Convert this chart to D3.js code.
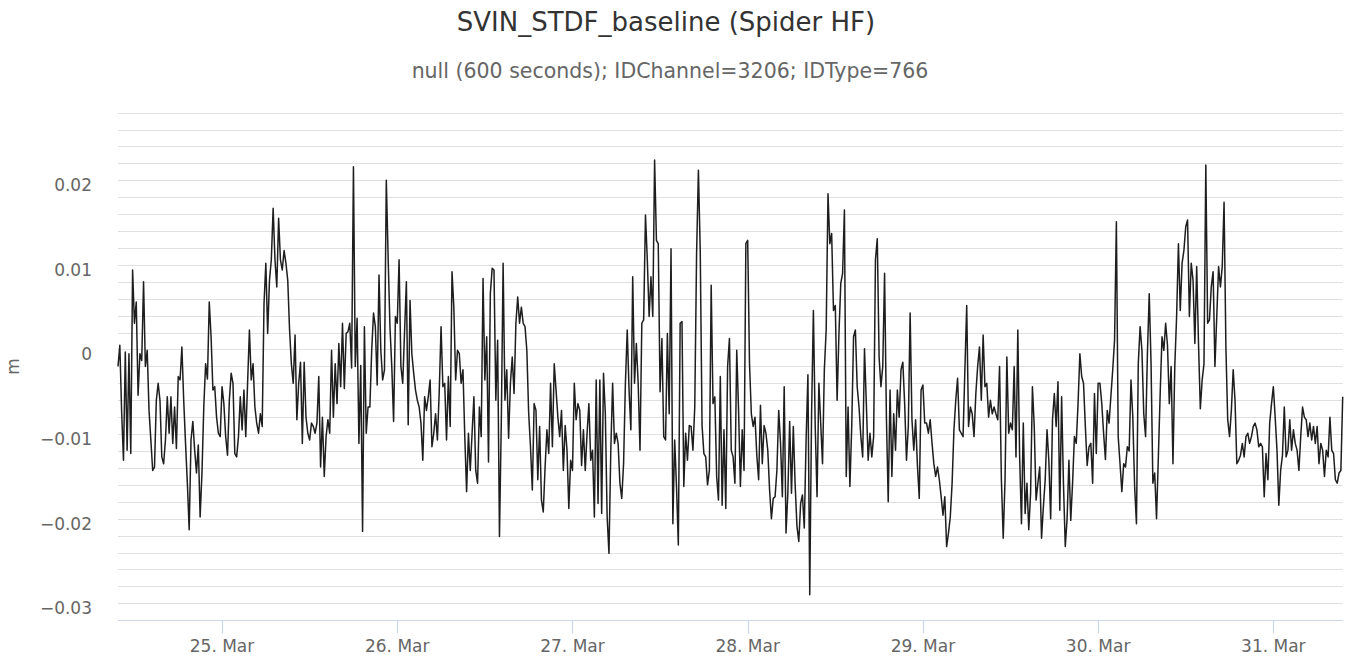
<!DOCTYPE html>
<html>
<head>
<meta charset="utf-8">
<script src="https://cdn.jsdelivr.net/npm/d3@7"></script>
<style>
  body { margin: 0; background: #fff; }
  svg { display: block; }
</style>
</head>
<body>
<div id="chart"></div>
<script>
// baseline readings in millimetres, one every 15 minutes
var mar24 = [
  -2.0, 0.5, -7.4, -13.1, -0.3, -11.9, -0.5, -12.3, 9.4, 3.1,
  5.6, -5.4, -0.5, -1.3, 8.0, -2.0, -0.1, -7.2, -10.7, -14.3,
  -13.9, -6.0, -4.0, -6.0, -12.7, -13.5, -10.7, -5.6, -9.9, -5.6,
  -11.1, -6.8, -11.7, -3.2, -3.6, 0.3, -6.0, -11.1, -15.8, -21.3,
  -10.7, -8.5, -11.9, -14.6, -11.3, -19.8, -14.6, -6.8, -1.7, -3.5,
  5.6, 1.5, -4.8, -4.4, -8.0, -9.9, -10.3
]
var mar25 = [
  -4.4, -6.4, -10.3,
  -12.5, -6.0, -2.8, -4.0, -12.3, -12.7, -10.3, -5.6, -9.5, -4.8,
  -10.3, -4.0, 2.3, -3.6, -1.7, -6.8, -8.7, -9.9, -7.6, -9.1,
  5.4, 10.2, 1.9, 8.2, 10.6, 16.7, 10.6, 7.4, 15.5, 10.6,
  9.4, 11.7, 10.2, 8.2, 2.3, -1.7, -4.0, 1.7, -8.3, -4.0,
  -1.5, -11.1, -1.5, -8.0, -9.9, -10.7, -8.7, -9.1, -9.9, -8.7,
  -3.2, -13.9, -8.0, -15.0, -10.3, -8.3, -9.9, -0.1, -8.0, -1.7,
  -6.4, 0.7, -4.4, 3.1, -4.6, 1.9, 2.1, 3.1, -2.2, 21.6,
  -2.0, 3.7, -11.1, -1.9, -21.5, 2.7, -9.9, -6.8, -6.8, -0.1,
  4.3, 2.7, -4.2, 8.8, -0.1, -3.6, -2.4, 20.0, 10.9, 2.7,
  -2.0, -8.5, 3.9
]
var mar26 = [
  3.1, 10.6, -2.0, -4.0, 2.1, 8.0, -8.9,
  5.8, -0.5, -2.8, -4.8, -6.0, -6.8, -8.7, -13.1, -5.6, -7.2,
  -5.6, -3.6, -11.5, -9.9, -7.6, -10.7, -5.0, 2.7, -4.4, -4.0,
  -10.7, -3.2, -9.1, 9.2, 5.0, -3.6, -0.1, -0.5, -4.0, -2.4,
  -10.3, -16.8, -9.9, -14.3, -9.9, -5.6, -14.3, -15.8, -6.8, -10.3,
  8.4, -3.6, 1.5, -13.3, 6.6, 9.6, 9.4, -6.0, 1.1, -22.1,
  -8.7, 10.2, -6.0, -2.4, -10.5, -4.0, -0.9, -5.2, 3.1, 6.2,
  3.1, 5.0, 3.1, 2.7, -0.1, -7.5, -11.5, -16.6, -6.4, -7.2,
  -15.4, -9.1, -17.8, -19.2, -13.9, -9.5, -12.3, -4.0, -11.5, -1.7,
  -4.8, -8.0, -10.3, -7.2, -14.3, -9.0, -11.9, -18.8, -13.1
]
var mar27 = [
  -14.3,
  -4.0, -8.3, -6.4, -7.2, -13.7, -9.5, -14.3, -9.9, -6.4, -13.1,
  -11.9, -19.8, -3.6, -18.2, -3.6, -19.4, -2.8, -7.6, -19.8, -24.1,
  -11.9, -4.0, -11.1, -9.9, -11.1, -15.8, -17.6, -13.5, -4.0, 2.3,
  -4.8, -9.5, 8.6, -4.0, 0.7, -4.0, -11.9, 3.1, 3.5, 15.9,
  10.6, 3.9, 8.6, 3.9, 22.4, 12.9, 12.5, -5.0, 1.3, -10.3,
  -10.7, 1.9, -7.6, 11.9, -20.6, -10.7, -16.2, -23.1, 3.1, 3.3,
  -16.2, -9.9, -13.1, -9.0, -9.1, -11.9, -6.8, 11.3, 21.2,
  11.7, -9.0, -12.3, -12.7, -16.0, -14.3, 7.6, -6.4, -5.6, -15.0,
  -17.8, -3.2, -18.4, -9.5, -18.8, -2.0, 1.3, -11.9, -12.7, -15.8,
  -0.1, -7.2, -16.2, -9.5, -14.3, 12.5
]
var mar28 = [
  12.9, -1.7, -7.6, -9.1,
  -8.0, -12.5, -15.4, -6.6, -13.5, -9.0, -9.9, -11.9, -16.6, -20.0,
  -17.6, -17.4, -14.3, -7.2, -11.1, -17.4, -4.4, -21.7, -17.0, -8.5,
  -17.0, -9.1, -16.0, -20.9, -22.7, -18.2, -17.2, -21.1, -10.7, -3.0,
  -29.0, -7.6, 4.6, -9.1, -17.4, -4.0, -8.7, -13.5, -2.4, 2.3,
  18.4, 12.5, 13.7, 4.6, 5.2, -6.0, 1.9, 7.8, 9.0, 16.5,
  -15.0, -6.8, -16.2, -9.1, 1.5, 2.3, -4.4, -6.8, -10.3, -12.7,
  0.1, -6.4, -13.1, -9.9, -12.7, -10.3, 10.6, 13.1, -0.9, -4.4,
  -2.0, 9.0, -8.0, -18.0, -4.8, -15.0, -7.6, -11.9, -4.8, -8.0,
  -2.4, -1.5, -6.4, -13.1, -9.1, 4.3, -8.3, -11.9, -8.3, -13.7,
  -17.6, -4.8
]
var mar29 = [
  -4.2, -8.7, -8.7, -9.9, -8.3, -11.1, -13.5, -15.0,
  -13.9, -15.4, -17.4, -19.6, -17.4, -23.3, -21.7, -19.8, -15.8, -9.5,
  -6.0, -3.4, -9.5, -9.9, -10.3, -2.4, 5.2, -9.1, -6.8, -7.6,
  -10.3, -5.2, -2.0, 0.3, -6.0, 1.7, -4.4, -4.0, -8.0, -6.0,
  -7.6, -6.8, -7.6, -8.3, -2.0, -15.4, -22.3, -15.4, -0.9, -9.9,
  -8.7, -9.5, -2.0, -12.7, 2.3, -12.7, -20.6, -8.7, -19.4, -15.8,
  -21.3, -17.0, -4.4, -9.1, -17.8, -15.8, -13.9, -22.3, -18.6, -15.4,
  -9.5, -13.1, -20.0, -8.3, -5.2, -9.1, -3.8, -19.0, -5.6, -15.8,
  -23.3, -20.0, -13.1, -20.2, -15.8, -10.3, -11.1, -6.4, -0.5, -3.2,
  -4.0, -9.1, -13.7, -11.5, -11.1, -15.8, -5.2, -12.3
]
var mar30 = [
  -4.0,
  -4.0, -6.4, -9.9, -13.0, -7.2, -8.7, -5.5, -2.4, 1.1, 15.1,
  -10.3, -13.5, -16.8, -13.5, -13.9, -11.5, -12.0, -3.6, -8.0, -16.2,
  -20.6, -1.7, 2.7, -0.1, -7.6, -10.3, -0.5, 6.6, -1.7, -15.8,
  -14.6, -20.0, -12.7, -5.2, 1.5, -0.1, 3.1, 0.5, -6.4, -2.0,
  -13.5, -2.0, 3.9, 12.5, 4.6, 10.2, 11.7, 14.5, 15.3, 3.9,
  10.2, 8.2, 0.7, 9.8, 0.7, -7.0, -3.6, -1.7, 21.8, 3.1,
  3.5, 7.4, 9.2, -2.0, 3.9, 9.8, 7.4, 9.8, 17.4, 0.3,
  -8.3, -10.3, -7.2, -2.4, -6.0, -13.5, -13.1, -12.5, -11.1, -12.7,
  -10.3, -9.9, -11.1, -10.3, -9.1, -8.7, -9.5, -11.5, -11.1, -11.5,
  -17.4, -12.3, -15.4, -8.7, -6.4
]
var mar31 = [
  -4.4, -8.0, -11.9, -18.4, -14.3,
  -12.5, -6.8, -12.7, -11.9, -8.3, -11.9, -9.5, -11.1, -11.9, -14.3,
  -10.3, -6.8, -8.0, -8.3, -10.3, -8.7, -10.7, -9.1, -11.1, -9.1,
  -13.5, -11.1, -11.9, -15.0, -11.9, -12.7, -8.0, -11.9, -12.3, -15.4,
  -15.8, -14.6, -14.3, -5.6
]

var dayStarts = ["2019-03-24T09:45:00Z", "2019-03-25T00:00:00Z", "2019-03-26T00:00:00Z",
                 "2019-03-27T00:00:00Z", "2019-03-28T00:00:00Z", "2019-03-29T00:00:00Z",
                 "2019-03-30T00:00:00Z", "2019-03-31T00:00:00Z"]
var dayValues = [mar24, mar25, mar26, mar27, mar28, mar29, mar30, mar31]
var stepMinutes = 15

var yDomain = [-0.032, 0.028]
var yLabelTicks = [-0.03, -0.02, -0.01, 0, 0.01, 0.02]

var titleText = "SVIN_STDF_baseline (Spider HF)"
var subtitleText = "null (600 seconds); IDChannel=3206; IDType=766"
var yTitle = "m"

var outerWidth = 1352,
    outerHeight = 659
var margin = { top: 112.6, right: 9.3, bottom: 38.8, left: 118 }
var fontFamily = "'DejaVu Sans', Verdana, sans-serif"

var data = []
dayValues.forEach(function(vals, i) {
    var t0 = new Date(dayStarts[i])
    vals.forEach(function(v, j) {
        data.push({ t: new Date(+t0 + j * stepMinutes * 60000), v: v / 1000 })
    })
})

var svg = d3.select("#chart")
    .append("svg")
    .attr("width", outerWidth)
    .attr("height", outerHeight)

svg.append("rect")
    .attr("width", outerWidth)
    .attr("height", outerHeight)
    .attr("fill", "#ffffff")

var xScale = d3.scaleUtc()
    .domain(d3.extent(data, function(d) { return d.t }))
    .range([margin.left, outerWidth - margin.right])

var yScale = d3.scaleLinear()
    .domain(yDomain)
    .range([outerHeight - margin.bottom, margin.top])

// grid every 0.002
svg.append("g")
    .selectAll("line")
    .data(yScale.ticks(30).filter(function(d) { return d > yDomain[0] + 1e-9 }))
    .enter().append("line")
    .attr("x1", margin.left)
    .attr("x2", outerWidth - margin.right)
    .attr("y1", function(d) { return Math.round(yScale(d)) + 0.5 })
    .attr("y2", function(d) { return Math.round(yScale(d)) + 0.5 })
    .attr("stroke", "#e0e0e0")
    .attr("stroke-width", 1.2)

// x axis line and ticks
var axisY = Math.round(yScale(yDomain[0])) + 0.5
svg.append("line")
    .attr("x1", margin.left)
    .attr("x2", outerWidth - margin.right)
    .attr("y1", axisY)
    .attr("y2", axisY)
    .attr("stroke", "#ccd6eb")
    .attr("stroke-width", 1.2)

var xTicks = xScale.ticks(d3.utcDay.every(1))
var xg = svg.append("g")
xg.selectAll("line")
    .data(xTicks)
    .enter().append("line")
    .attr("x1", function(d) { return Math.round(xScale(d)) + 0.5 })
    .attr("x2", function(d) { return Math.round(xScale(d)) + 0.5 })
    .attr("y1", axisY)
    .attr("y2", axisY + 13)
    .attr("stroke", "#ccd6eb")
    .attr("stroke-width", 1.2)
xg.selectAll("text")
    .data(xTicks)
    .enter().append("text")
    .attr("x", function(d) { return xScale(d) })
    .attr("y", 652)
    .attr("text-anchor", "middle")
    .attr("font-family", fontFamily)
    .attr("font-size", "17px")
    .attr("fill", "#666666")
    .text(d3.utcFormat("%d. %b"))

// y labels
var yFmt = d3.format("~g")
svg.append("g")
    .selectAll("text")
    .data(yLabelTicks)
    .enter().append("text")
    .attr("x", 92)
    .attr("y", function(d) { return yScale(d) + 11 })
    .attr("text-anchor", "end")
    .attr("font-family", fontFamily)
    .attr("font-size", "17px")
    .attr("fill", "#666666")
    .text(function(d) { return yFmt(d) })

svg.append("text")
    .attr("transform", "translate(19," + (margin.top + outerHeight - margin.bottom) / 2 + ") rotate(-90)")
    .attr("text-anchor", "middle")
    .attr("font-family", fontFamily)
    .attr("font-size", "17px")
    .attr("fill", "#666666")
    .text(yTitle)

// series
var line = d3.line()
    .x(function(d) { return xScale(d.t) })
    .y(function(d) { return yScale(d.v) })
    .curve(d3.curveLinear)

svg.append("path")
    .datum(data)
    .attr("d", line)
    .attr("fill", "none")
    .attr("stroke", "#1e1e1e")
    .attr("stroke-width", 1.5)
    .attr("stroke-linejoin", "round")

// titles
svg.append("text")
    .attr("x", 666)
    .attr("y", 31)
    .attr("text-anchor", "middle")
    .attr("font-family", fontFamily)
    .attr("font-size", "26px")
    .attr("fill", "#333333")
    .text(titleText)

svg.append("text")
    .attr("x", 670)
    .attr("y", 78)
    .attr("text-anchor", "middle")
    .attr("font-family", fontFamily)
    .attr("font-size", "20.5px")
    .attr("fill", "#666666")
    .text(subtitleText)
</script>
</body>
</html>
